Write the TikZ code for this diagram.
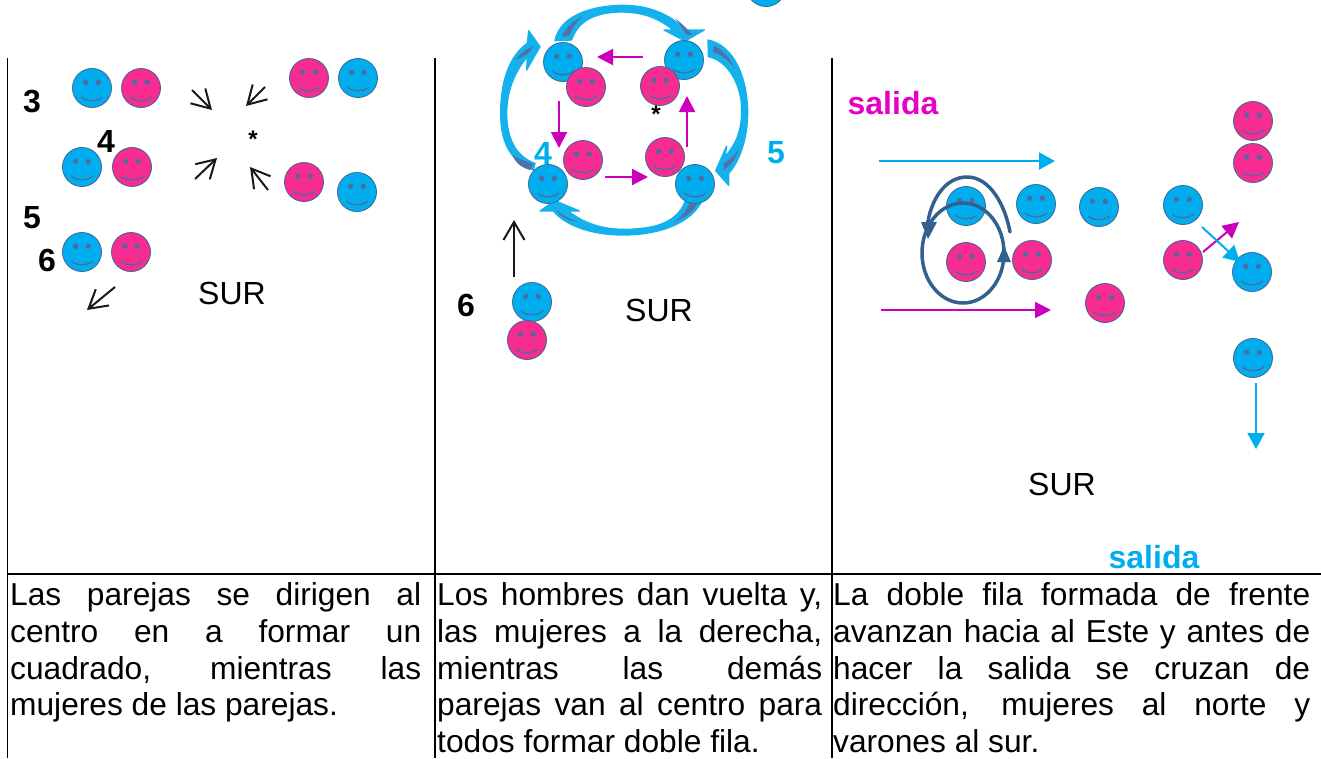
\documentclass[tikz,border=0pt]{standalone}
\usepackage{fontspec}
\setmainfont{Liberation Sans}
\usetikzlibrary{arrows.meta}
\definecolor{cy}{HTML}{00AEEF}
\definecolor{pk}{HTML}{F72C91}
\definecolor{edgeb}{HTML}{3B6590}
\definecolor{fea}{HTML}{4F6A9E}
\definecolor{mg}{HTML}{CC00BB}
\definecolor{sal}{HTML}{E600C4}
\definecolor{dk}{HTML}{32608F}
\definecolor{rib}{HTML}{14B1EC}
\definecolor{ribd}{HTML}{4F72A8}
\tikzset{
 x=1pt,y=-1pt,
 face/.style={circle,inner sep=0pt,minimum size=39pt,draw=edgeb,line width=.8pt,
   path picture={
     \fill[fea] ([shift={(-6.3,-5.7)}]path picture bounding box.center) circle (2.6);
     \fill[fea] ([shift={(6.3,-5.7)}]path picture bounding box.center) circle (2.6);
     \draw[fea,line width=1.3pt] ([shift={(-11,9)}]path picture bounding box.center)
        .. controls +(6,5) and +(-6,5) .. +(22,0);
   }},
 bl/.style={face,fill=cy},
 pi/.style={face,fill=pk},
 blackarr/.style={-{Straight Barb[length=18pt,width=21pt,line width=2pt]},line width=2pt,black!90},
 magarr/.style={-{Triangle[length=16pt,width=16pt]},line width=2pt,mg},
 cyarr/.style={-{Triangle[length=16pt,width=17pt]},line width=2pt,cy},
 num/.style={font=\fontsize{32}{32}\selectfont\bfseries,inner sep=0pt},
 sur/.style={font=\fontsize{32}{32}\selectfont,inner sep=0pt},
 body/.style={font=\fontsize{31.7}{36.75}\selectfont,inner sep=0pt,anchor=north west,align=left},
 grid/.style={line width=1.7pt,black},
 loopc/.style={dk,line width=3.5pt},
 ribbon/.style={fill=rib,draw=rib,line width=1.3pt,line join=round},
 accent/.style={fill=ribd},
}
\begin{document}
\begin{tikzpicture}
\useasboundingbox (0,0) rectangle (1321,758);
\clip (0,0) rectangle (1321,758);
\fill[white] (0,0) rectangle (1321,758);
% grid
\draw[grid] (7.5,58) -- (7.5,758);
\draw[grid] (435,58) -- (435,758);
\draw[grid] (832,58) -- (832,758);
\draw[grid] (7.5,574) -- (1321,574);
% panel 1
\node[bl] (a1) at (92,88) {};
\node[pi] (a2) at (141,88) {};
\node[pi] (a3) at (309,78) {};
\node[bl] (a4) at (358,78) {};
\node[bl] (a5) at (82,167) {};
\node[pi] (a6) at (132,167) {};
\node[pi] (a7) at (304,182) {};
\node[bl] (a8) at (357,192) {};
\node[bl] (a9) at (82,252) {};
\node[pi] (a10) at (131,252) {};
\node[num] (n3) at (32,102) {3};
\node[num] (n4) at (106,141) {4};
\node[num] (n5) at (32,218) {5};
\node[num] (n6) at (47,260) {6};
\node[num,font=\fontsize{24}{24}\selectfont\bfseries] (st1) at (253,139) {*};
\node[sur] (s1) at (232,293) {SUR};
\draw[blackarr] (192,90) -- (212,110);
\draw[blackarr] (265,87) -- (246,106);
\draw[blackarr] (195,179) -- (217,158);
\draw[blackarr] (268,190) -- (250,167);
\draw[blackarr] (115,287) -- (87,310);
% panel 2 ribbons
\begin{scope}[shift={(440,0)},scale=1/3]
\path[ribbon] (345,122) .. controls (360,45) and (460,16) .. (550,16) .. controls (620,16) and (690,40) .. (735,90) -- (793,90) -- (735,123) -- (672,90) -- (700,90) .. controls (650,50) and (600,36) .. (545,36) .. controls (480,36) and (415,55) .. (395,120) -- cycle;
\fill[accent] (365,110) .. controls (375,85) and (395,65) .. (430,48) .. controls (410,65) and (395,85) .. (388,108) -- cycle;
\fill[accent] (705,55) .. controls (725,70) and (745,90) .. (758,106) -- (738,103) .. controls (728,85) and (718,70) .. (705,55) -- cycle;
\path[ribbon] (804,120) .. controls (880,135) and (923,230) .. (923,340) .. controls (923,420) and (895,490) .. (866,520) -- (866,556) -- (827,512) -- (860,438) -- (855,470) .. controls (890,430) and (905,390) .. (905,330) .. controls (905,250) and (860,180) .. (805,170) -- cycle;
\fill[accent] (820,137) .. controls (850,150) and (870,175) .. (885,205) .. controls (865,180) and (845,165) .. (820,156) -- cycle;
\fill[accent] (850,490) .. controls (870,480) and (885,465) .. (896,447) .. controls (890,475) and (870,498) .. (852,510) -- cycle;
\path[ribbon] (782,610) .. controls (740,680) and (640,705) .. (550,705) .. controls (460,705) and (380,680) .. (340,633) -- (300,633) -- (345,602) -- (418,633) -- (385,633) .. controls (430,670) and (490,688) .. (550,688) .. controls (640,688) and (710,670) .. (735,605) -- cycle;
\fill[accent] (772,612) .. controls (755,640) and (730,655) .. (700,668) .. controls (725,650) and (740,630) .. (748,610) -- cycle;
\fill[accent] (347,627) .. controls (365,645) and (385,655) .. (415,666) .. controls (385,663) and (360,650) .. (347,627) -- cycle;
\path[ribbon] (280,510) .. controls (205,480) and (182,420) .. (182,340) .. controls (182,250) and (205,170) .. (262,130) -- (266,92) -- (300,140) -- (260,210) -- (262,170) .. controls (220,220) and (200,280) .. (200,340) .. controls (200,410) and (225,470) .. (285,490) -- cycle;
\fill[accent] (217,465) .. controls (235,475) and (260,485) .. (280,492) -- (270,510) .. controls (245,503) and (227,490) .. (217,465) -- cycle;
\fill[accent] (227,180) .. controls (240,160) and (260,145) .. (280,140) -- (262,163) .. controls (250,170) and (237,175) .. (227,180) -- cycle;
\end{scope}
\node[bl] (b1) at (563,62) {};
\node[pi] (b2) at (586,87) {};
\node[bl] (b3) at (684,60) {};
\node[pi] (b4) at (660,86) {};
\node[pi] (b5) at (583,160) {};
\node[bl] (b6) at (548,184) {};
\node[pi] (b7) at (665,157) {};
\node[bl] (b8) at (695,184) {};
\node[bl] (b9) at (766,-13) {};
\node[bl] (b10) at (532,302) {};
\node[pi] (b11) at (527,340) {};
\draw[magarr] (643,57) -- (597,57);
\draw[magarr] (559,101) -- (559,148);
\draw[magarr] (605,177) -- (648,177);
\draw[magarr] (687,147) -- (687,96);
\draw[blackarr] (514,277) -- (514,220);
\node[num,text=cy] (c4) at (543,153) {4};
\node[num,text=cy] (c5) at (776,153) {5};
\node[num] (c6) at (466,305) {6};
\node[num,font=\fontsize{24}{24}\selectfont\bfseries] (st2) at (656,114) {*};
\node[sur] (s2) at (659,310) {SUR};
% panel 3
\node[num,text=sal] (sa1) at (893,103) {salida};
\node[num,text=cy] (sa2) at (1154,557) {salida};
\node[sur] (s3) at (1062,484) {SUR};
\draw[cyarr] (879,161) -- (1055,161);
\draw[magarr] (881,310) -- (1051,310);
\node[bl] (d1) at (966,206) {};
\node[bl] (d2) at (1036,204) {};
\node[bl] (d3) at (1099,207) {};
\node[pi] (d4) at (966,262) {};
\node[pi] (d5) at (1032,260) {};
\node[pi] (d6) at (1105,303) {};
\draw[loopc] (963,253) ellipse [x radius=41,y radius=50];
\draw[loopc,line cap=round] (1010,232) .. controls (1005,205) and (990,177) .. (967,177) .. controls (945,177) and (930,200) .. (927,228);
\fill[dk] (921,222) -- (937,222) -- (928,239) -- cycle;
\fill[dk] (997,262) -- (1011,262) -- (1004,246) -- cycle;
\node[pi] (e1) at (1253,121) {};
\node[pi] (e2) at (1253,163) {};
\node[bl] (e3) at (1183,205) {};
\node[pi] (e4) at (1183,260) {};
\node[bl] (e5) at (1252,272) {};
\node[bl] (e6) at (1253,358) {};
\draw[magarr] (1203,252) -- (1239,222);
\draw[cyarr] (1202,227) -- (1240,262);
\draw[cyarr] (1256,383) -- (1256,449);
% text
\node[body] (t1) at (10,582.5) {\makebox[411pt][s]{Las parejas se dirigen al}\\\makebox[411pt][s]{centro en a formar un}\\\makebox[411pt][s]{cuadrado, mientras las}\\mujeres de las parejas.};
\node[body] (t2) at (437,582.5) {\makebox[385pt][s]{Los hombres dan vuelta y,}\\\makebox[385pt][s]{las mujeres a la derecha,}\\\makebox[385pt][s]{mientras las demás}\\\makebox[385pt][s]{parejas van al centro para}\\todos formar doble fila.};
\node[body] (t3) at (833,582.5) {\makebox[477pt][s]{La doble fila formada de frente}\\\makebox[477pt][s]{avanzan hacia al Este y antes de}\\\makebox[477pt][s]{hacer la salida se cruzan de}\\\makebox[477pt][s]{dirección, mujeres al norte y}\\varones al sur.};
\end{tikzpicture}
\end{document}
